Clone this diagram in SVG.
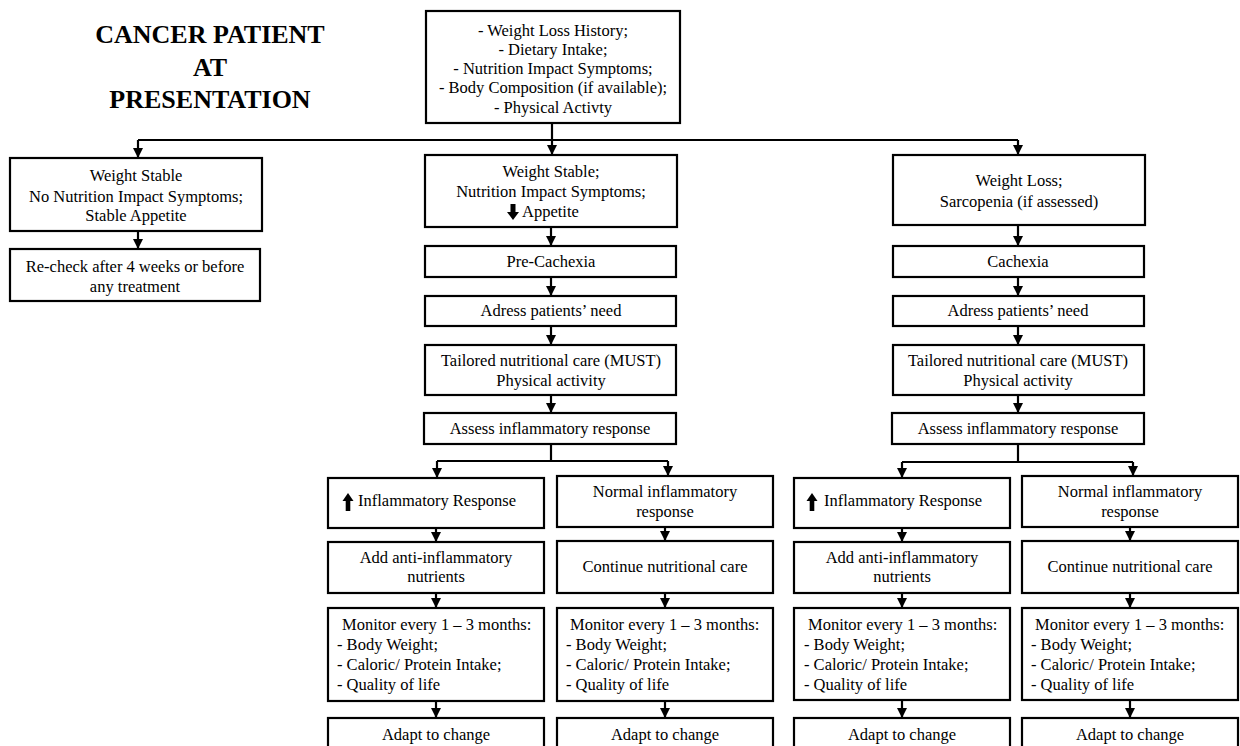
<svg xmlns="http://www.w3.org/2000/svg" width="1240" height="746" viewBox="0 0 1240 746" font-family="'Liberation Serif', 'Times New Roman', Times, 'DejaVu Serif', serif">
<style>
.b{fill:#fff;stroke:#000;stroke-width:2.2}
text{font-family:'Liberation Serif','Times New Roman',Times,'DejaVu Serif',serif;font-size:16.5px;fill:#000}
.c{text-anchor:middle}
.t{font-size:26px;font-weight:bold;text-anchor:middle}
.ln{fill:none;stroke:#000;stroke-width:2.2}
.ic{fill:#000}
</style>
<defs>
<marker id="ah" markerUnits="userSpaceOnUse" markerWidth="11" markerHeight="10" refX="10" refY="5" orient="auto">
<path d="M0,0 L10,5 L0,10 z" fill="#000"/>
</marker>
</defs>
<rect width="1240" height="746" fill="#fff"/>
<g id="title">
<text class="t" x="210" y="43">CANCER PATIENT</text>
<text class="t" x="210" y="76">AT</text>
<text class="t" x="210" y="108">PRESENTATION</text>
</g>
<g id="connectors">
<path class="ln" d="M138,140 H1018"/>
<path class="ln" d="M552,123 V155" marker-end="url(#ah)"/>
<path class="ln" d="M138,140 V158" marker-end="url(#ah)"/>
<path class="ln" d="M1018,140 V155" marker-end="url(#ah)"/>
<path class="ln" d="M138,231 V249" marker-end="url(#ah)"/>
<path class="ln" d="M551,227 V246" marker-end="url(#ah)"/>
<path class="ln" d="M551,277 V296" marker-end="url(#ah)"/>
<path class="ln" d="M551,326 V345" marker-end="url(#ah)"/>
<path class="ln" d="M551,395 V413" marker-end="url(#ah)"/>
<path class="ln" d="M1018,225 V246" marker-end="url(#ah)"/>
<path class="ln" d="M1018,277 V296" marker-end="url(#ah)"/>
<path class="ln" d="M1018,326 V345" marker-end="url(#ah)"/>
<path class="ln" d="M1018,395 V413" marker-end="url(#ah)"/>
<path class="ln" d="M551,444 V461"/>
<path class="ln" d="M437,461 H668"/>
<path class="ln" d="M437,461 V478" marker-end="url(#ah)"/>
<path class="ln" d="M668,461 V476" marker-end="url(#ah)"/>
<path class="ln" d="M1018,444 V462"/>
<path class="ln" d="M902,462 H1133"/>
<path class="ln" d="M902,462 V478" marker-end="url(#ah)"/>
<path class="ln" d="M1133,462 V476" marker-end="url(#ah)"/>
<path class="ln" d="M436,528 V542" marker-end="url(#ah)"/>
<path class="ln" d="M665,527 V541" marker-end="url(#ah)"/>
<path class="ln" d="M902,528 V542" marker-end="url(#ah)"/>
<path class="ln" d="M1130,527 V541" marker-end="url(#ah)"/>
<path class="ln" d="M436,593 V608" marker-end="url(#ah)"/>
<path class="ln" d="M665,593 V608" marker-end="url(#ah)"/>
<path class="ln" d="M902,593 V608" marker-end="url(#ah)"/>
<path class="ln" d="M1130,593 V608" marker-end="url(#ah)"/>
<path class="ln" d="M436,701 V718" marker-end="url(#ah)"/>
<path class="ln" d="M665,701 V718" marker-end="url(#ah)"/>
<path class="ln" d="M902,700 V718" marker-end="url(#ah)"/>
<path class="ln" d="M1130,700 V718" marker-end="url(#ah)"/>
</g>
<g id="assessment">
<rect class="b" x="426" y="11" width="254" height="112"/>
<text class="c" x="553" y="36">- Weight Loss History;</text>
<text class="c" x="553" y="55">- Dietary Intake;</text>
<text class="c" x="553" y="74">- Nutrition Impact Symptoms;</text>
<text class="c" x="553" y="93">- Body Composition (if available);</text>
<text class="c" x="553" y="113">- Physical Activty</text>
</g>
<g id="stable">
<rect class="b" x="10" y="158" width="252" height="73"/>
<text class="c" x="136" y="181">Weight Stable</text>
<text class="c" x="136" y="202">No Nutrition Impact Symptoms;</text>
<text class="c" x="136" y="221">Stable Appetite</text>
</g>
<g id="recheck">
<rect class="b" x="10" y="249" width="250" height="52"/>
<text class="c" x="135" y="272">Re-check after 4 weeks or before</text>
<text class="c" x="135" y="292">any treatment</text>
</g>
<g id="stable-nis">
<rect class="b" x="425" y="155" width="252" height="72"/>
<text class="c" x="551" y="177">Weight Stable;</text>
<text class="c" x="551" y="197">Nutrition Impact Symptoms;</text>
<polygon class="ic" points="510.5,204 515.5,204 515.5,212 519,212 513,220 507,212 510.5,212"/>
<text x="522" y="217">Appetite</text>
</g>
<g id="precachexia">
<rect class="b" x="425" y="246" width="251" height="31"/>
<text class="c" x="551" y="267">Pre-Cachexia</text>
</g>
<g id="address-m">
<rect class="b" x="425" y="296" width="251" height="30"/>
<text class="c" x="551" y="316">Adress patients’ need</text>
</g>
<g id="tailored-m">
<rect class="b" x="425" y="345" width="251" height="50"/>
<text class="c" x="551" y="366">Tailored nutritional care (MUST)</text>
<text class="c" x="551" y="386">Physical activity</text>
</g>
<g id="assess-m">
<rect class="b" x="424" y="413" width="252" height="31"/>
<text class="c" x="550" y="434">Assess inflammatory response</text>
</g>
<g id="weightloss">
<rect class="b" x="893" y="155" width="252" height="70"/>
<text class="c" x="1019" y="186">Weight Loss;</text>
<text class="c" x="1019" y="207">Sarcopenia (if assessed)</text>
</g>
<g id="cachexia">
<rect class="b" x="893" y="246" width="251" height="31"/>
<text class="c" x="1018" y="267">Cachexia</text>
</g>
<g id="address-r">
<rect class="b" x="893" y="296" width="251" height="30"/>
<text class="c" x="1018" y="316">Adress patients’ need</text>
</g>
<g id="tailored-r">
<rect class="b" x="893" y="345" width="251" height="50"/>
<text class="c" x="1018" y="366">Tailored nutritional care (MUST)</text>
<text class="c" x="1018" y="386">Physical activity</text>
</g>
<g id="assess-r">
<rect class="b" x="892" y="413" width="252" height="31"/>
<text class="c" x="1018" y="434">Assess inflammatory response</text>
</g>
<g id="inflam-m">
<rect class="b" x="328" y="478" width="216" height="50"/>
<polygon class="ic" points="348,493 353.5,501 350.3,501 350.3,511 345.7,511 345.7,501 342.5,501"/>
<text x="358" y="506">Inflammatory Response</text>
</g>
<g id="normal-m">
<rect class="b" x="557" y="476" width="216" height="51"/>
<text class="c" x="665" y="497">Normal inflammatory</text>
<text class="c" x="665" y="517">response</text>
</g>
<g id="anti-m">
<rect class="b" x="328" y="542" width="216" height="51"/>
<text class="c" x="436" y="563">Add anti-inflammatory</text>
<text class="c" x="436" y="582">nutrients</text>
</g>
<g id="continue-m">
<rect class="b" x="557" y="541" width="216" height="52"/>
<text class="c" x="665" y="572">Continue nutritional care</text>
</g>
<g id="monitor-ml">
<rect class="b" x="328" y="608" width="216" height="93"/>
<text x="342" y="630">Monitor every 1 – 3 months:</text>
<text x="337" y="650">- Body Weight;</text>
<text x="337" y="670">- Caloric/ Protein Intake;</text>
<text x="337" y="690">- Quality of life</text>
</g>
<g id="monitor-mr">
<rect class="b" x="557" y="608" width="216" height="93"/>
<text x="570" y="630">Monitor every 1 – 3 months:</text>
<text x="566" y="650">- Body Weight;</text>
<text x="566" y="670">- Caloric/ Protein Intake;</text>
<text x="566" y="690">- Quality of life</text>
</g>
<g id="adapt-ml">
<rect class="b" x="328" y="718" width="216" height="40"/>
<text class="c" x="436" y="740">Adapt to change</text>
</g>
<g id="adapt-mr">
<rect class="b" x="557" y="718" width="216" height="40"/>
<text class="c" x="665" y="740">Adapt to change</text>
</g>
<g id="inflam-r">
<rect class="b" x="794" y="478" width="216" height="50"/>
<polygon class="ic" points="812,493 817.5,501 814.3,501 814.3,511 809.7,511 809.7,501 806.5,501"/>
<text x="824" y="506">Inflammatory Response</text>
</g>
<g id="normal-r">
<rect class="b" x="1022" y="476" width="216" height="51"/>
<text class="c" x="1130" y="497">Normal inflammatory</text>
<text class="c" x="1130" y="517">response</text>
</g>
<g id="anti-r">
<rect class="b" x="794" y="542" width="216" height="51"/>
<text class="c" x="902" y="563">Add anti-inflammatory</text>
<text class="c" x="902" y="582">nutrients</text>
</g>
<g id="continue-r">
<rect class="b" x="1022" y="541" width="216" height="52"/>
<text class="c" x="1130" y="572">Continue nutritional care</text>
</g>
<g id="monitor-rl">
<rect class="b" x="794" y="608" width="216" height="92"/>
<text x="808" y="630">Monitor every 1 – 3 months:</text>
<text x="804" y="650">- Body Weight;</text>
<text x="804" y="670">- Caloric/ Protein Intake;</text>
<text x="804" y="690">- Quality of life</text>
</g>
<g id="monitor-rr">
<rect class="b" x="1022" y="608" width="216" height="92"/>
<text x="1035" y="630">Monitor every 1 – 3 months:</text>
<text x="1031" y="650">- Body Weight;</text>
<text x="1031" y="670">- Caloric/ Protein Intake;</text>
<text x="1031" y="690">- Quality of life</text>
</g>
<g id="adapt-rl">
<rect class="b" x="794" y="718" width="216" height="40"/>
<text class="c" x="902" y="740">Adapt to change</text>
</g>
<g id="adapt-rr">
<rect class="b" x="1022" y="718" width="216" height="40"/>
<text class="c" x="1130" y="740">Adapt to change</text>
</g>
</svg>
